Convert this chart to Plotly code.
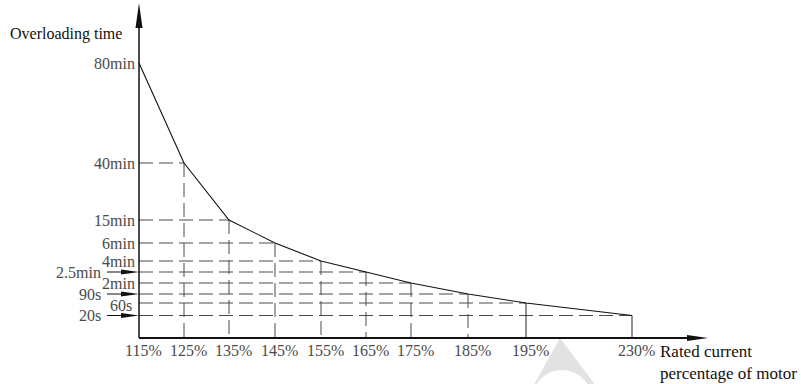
import plotly.graph_objects as go

# ---- data (schematic overload curve) ----
current_pct = [115, 125, 135, 145, 155, 165, 175, 185, 195, 230]
time_labels = ["80min", "40min", "15min", "6min", "4min", "2.5min", "2min", "90s", "60s", "20s"]
# schematic scale values along the drawn axes (the chart is not to scale)
x_scale = [0, 45, 90, 136, 182, 227, 272, 329, 387, 493]
y_scale = [275, 175, 118, 95, 77, 66, 55, 44, 35, 22.5]
arrow_marked = ["2.5min", "90s", "20s"]
solid_drop = [195, 230]

X_TITLE_LINES = ["Rated current", "percentage of motor"]
Y_TITLE = "Overloading time"

LABEL_FONT = dict(family="Liberation Serif, Times New Roman, serif", size=16, color="#4a4a4a")
TITLE_FONT = dict(family="Liberation Serif, Times New Roman, serif", size=16, color="#111111")
XT_FONT = dict(family="Liberation Serif, Times New Roman, serif", size=17, color="#111111")
DASH = "14px,6px"
GRID_COLOR = "#4a4a4a"

fig = go.Figure()
shapes = []
annotations = []

# watermark (faint)
shapes.append(dict(type="path", xref="x", yref="y", layer="below",
                   path="M 421 0 L 392 -52 L 460 -52 Z",
                   fillcolor="#e2e2e2", line=dict(width=0)))
shapes.append(dict(type="circle", xref="x", yref="y", layer="below",
                   x0=393, x1=453, y0=-92, y1=-32,
                   fillcolor="white", line=dict(width=0)))

# dashed guide lines
hx, hy, vx, vy, sx, sy = [], [], [], [], [], []
for p, x, y in zip(current_pct, x_scale, y_scale):
    if x > 0:
        hx += [0, x, None]
        hy += [y, y, None]
        if p in solid_drop:
            sx += [x, x, None]
            sy += [y, 0, None]
        else:
            vx += [x, x, None]
            vy += [y, 0, None]

fig.add_trace(go.Scatter(x=hx, y=hy, mode="lines", hoverinfo="skip", showlegend=False,
                         line=dict(color=GRID_COLOR, width=1, dash=DASH)))
fig.add_trace(go.Scatter(x=vx, y=vy, mode="lines", hoverinfo="skip", showlegend=False,
                         line=dict(color=GRID_COLOR, width=1, dash=DASH)))
fig.add_trace(go.Scatter(x=sx, y=sy, mode="lines", hoverinfo="skip", showlegend=False,
                         line=dict(color="#222222", width=1)))

# the curve
fig.add_trace(go.Scatter(x=x_scale, y=y_scale, mode="lines", showlegend=False,
                         line=dict(color="#111111", width=1.1),
                         text=[f"{p}% : {t}" for p, t in zip(current_pct, time_labels)],
                         hoverinfo="text"))

# axes lines
x_end = 569
y_end = 335
shapes.append(dict(type="line", xref="x", yref="y", x0=0, x1=x_end - 15, y0=0, y1=0,
                   line=dict(color="#111111", width=1.8)))
shapes.append(dict(type="line", xref="x", yref="y", x0=0, x1=0, y0=0, y1=y_end - 15,
                   line=dict(color="#111111", width=1.5)))
shapes.append(dict(type="path", xref="x", yref="y",
                   path=f"M {x_end} 0 L {x_end-21} 3 L {x_end-21} -3 Z",
                   fillcolor="#111111", line=dict(width=0)))
shapes.append(dict(type="path", xref="x", yref="y",
                   path=f"M 0 {y_end} L -3.5 {y_end-25} L 3.5 {y_end-25} Z",
                   fillcolor="#111111", line=dict(width=0)))

# y labels and side arrows
for t, y in zip(time_labels, y_scale):
    if t in arrow_marked:
        annotations.append(dict(x=0, y=y, xref="x", yref="y", text=t, showarrow=False,
                                xanchor="right", yanchor="middle", xshift=-36, font=LABEL_FONT))
        shapes.append(dict(type="line", xref="x", yref="y", x0=-32, x1=-10, y0=y, y1=y,
                           line=dict(color="#111111", width=1)))
        shapes.append(dict(type="path", xref="x", yref="y",
                           path=f"M 0 {y} L -18 {y+2.6} L -18 {y-2.6} Z",
                           fillcolor="#111111", line=dict(width=0)))
    elif t == "60s":
        annotations.append(dict(x=0, y=y, xref="x", yref="y", text=t, showarrow=False,
                                xanchor="right", yanchor="middle", xshift=-5, yshift=-2,
                                font=LABEL_FONT))
    else:
        annotations.append(dict(x=0, y=y, xref="x", yref="y", text=t, showarrow=False,
                                xanchor="right", yanchor="middle", xshift=-2, font=LABEL_FONT))

# x tick labels
for p, x in zip(current_pct, x_scale):
    annotations.append(dict(x=x, y=0, xref="x", yref="y", text=f"{p}%", showarrow=False,
                            xanchor="center", yanchor="top", xshift=4, yshift=-2,
                            font=LABEL_FONT))

# titles
annotations.append(dict(x=-131, y=304, xref="x", yref="y", text=Y_TITLE, showarrow=False,
                        xanchor="left", yanchor="middle", font=TITLE_FONT))
annotations.append(dict(x=520, y=0, xref="x", yref="paper", text="<br>".join(X_TITLE_LINES),
                        showarrow=False, align="left", borderpad=0,
                        xanchor="left", yanchor="bottom", font=XT_FONT))

fig.update_layout(
    width=801, height=384,
    margin=dict(l=0, r=0, t=0, b=0),
    paper_bgcolor="white", plot_bgcolor="white",
    xaxis=dict(range=[-139, 662], visible=False, fixedrange=True),
    yaxis=dict(range=[-46, 338], visible=False, fixedrange=True),
    shapes=shapes, annotations=annotations,
    showlegend=False,
)

fig.write_html(
    "out.html",
    config={"displayModeBar": False},
    post_script="document.body.style.margin='0';document.body.style.padding='0';"
                "document.body.style.overflow='hidden';",
)
